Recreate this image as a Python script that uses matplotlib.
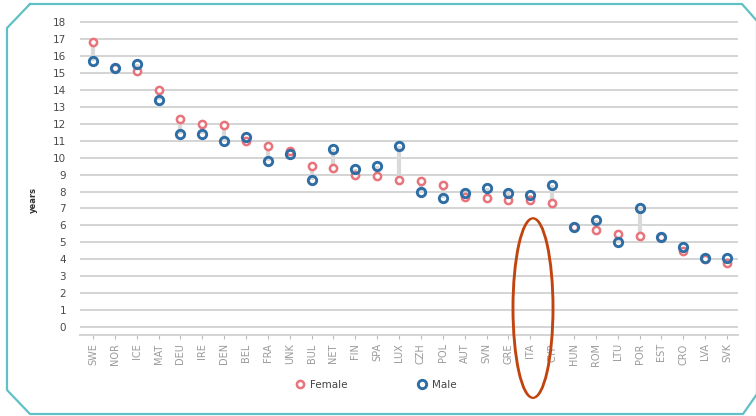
import numpy as np
import matplotlib.pyplot as plt
from matplotlib.patches import Ellipse
from matplotlib.lines import Line2D

countries = ["SWE", "NOR", "ICE", "MAT", "DEU", "IRE", "DEN", "BEL", "FRA", "UNK",
             "BUL", "NET", "FIN", "SPA", "LUX", "CZH", "POL", "AUT", "SVN", "GRE",
             "ITA", "CYP", "HUN", "ROM", "LTU", "POR", "EST", "CRO", "LVA", "SVK"]
female = [16.8, 15.3, 15.1, 14.0, 12.3, 12.0, 11.9, 11.0, 10.7, 10.4,
          9.5, 9.4, 9.0, 8.9, 8.7, 8.6, 8.4, 7.7, 7.6, 7.5,
          7.5, 7.3, 5.9, 5.7, 5.5, 5.4, 5.3, 4.5, 4.0, 3.8]
male = [15.7, 15.3, 15.5, 13.4, 11.4, 11.4, 11.0, 11.2, 9.8, 10.2,
        8.7, 10.5, 9.3, 9.5, 10.7, 8.0, 7.6, 7.9, 8.2, 7.9,
        7.8, 8.4, 5.9, 6.3, 5.0, 7.0, 5.3, 4.7, 4.1, 4.1]
yticks = list(range(0, 19))

W, H = 756, 416
FEM_C = "#e8737a"
MAL_C = "#2f6ea5"
GRID_C = "#d4d4d4"

fig = plt.figure(figsize=(W / 100, H / 100), dpi=100)
fig.patch.set_facecolor("white")


def fx(px):
    return px / W


def fy(py):
    return 1 - py / H


ax = fig.add_axes([fx(80), fy(335), fx(738) - fx(80), fy(17) - fy(335)])
x = np.arange(len(countries))

# grey connector between the two values
ax.vlines(x, np.minimum(female, male), np.maximum(female, male),
          color="#d9d9d9", lw=3, zorder=2)

ax.plot(x, female, ls="none", marker="o", ms=5.2, mew=1.8,
        mfc="white", mec=FEM_C, zorder=3, label="Female")
ax.plot(x, male, ls="none", marker="o", ms=6.0, mew=2.1,
        mfc="none", mec=MAL_C, zorder=4, label="Male")

ax.set_xlim(-0.59, len(countries) - 0.5)
ax.set_ylim(-0.47, 18.3)
ax.set_yticks(yticks)
ax.set_yticklabels([str(v) for v in yticks])
ax.yaxis.grid(True, color=GRID_C, lw=1.4)
ax.set_axisbelow(True)
ax.tick_params(axis="y", length=0, pad=10, labelsize=7.5, labelcolor="#4a4a4a")
ax.set_xticks(x)
ax.set_xticklabels(countries, rotation=90)
ax.tick_params(axis="x", length=3, width=0.8, color="#bbbbbb", pad=3,
               labelsize=7, labelcolor="#9a9a9a")
for s in ["top", "right", "left"]:
    ax.spines[s].set_visible(False)
ax.spines["bottom"].set_color(GRID_C)
ax.spines["bottom"].set_linewidth(1.4)

fig.text(fx(33), fy(200), "years", rotation=90, ha="center", va="center",
         fontsize=6, fontweight="bold", color="#333333")

# highlight around ITA
for d in (0.0, 0.05):
    ax.add_patch(Ellipse((20.1 + d, 1.12), 1.83, 10.6, facecolor="none",
                         edgecolor="#c1440e", lw=1.3, clip_on=False, zorder=6))

ax.legend(loc="center", bbox_to_anchor=(fx(375), fy(385)),
          bbox_transform=fig.transFigure, ncol=2, frameon=False,
          columnspacing=6.5, handletextpad=0.4, handlelength=1.2,
          fontsize=7.5, labelcolor="#444444")

# teal octagonal frame
pts = [(30, 4), (742, 4), (757, 21), (757, 394), (743, 414),
       (30, 414), (7, 390), (7, 28), (30, 4)]
fig.add_artist(Line2D([fx(p[0]) for p in pts], [fy(p[1]) for p in pts],
                      color="#5fc0c5", lw=1.6, transform=fig.transFigure))

fig.savefig("out.png", dpi=100, facecolor="white")
